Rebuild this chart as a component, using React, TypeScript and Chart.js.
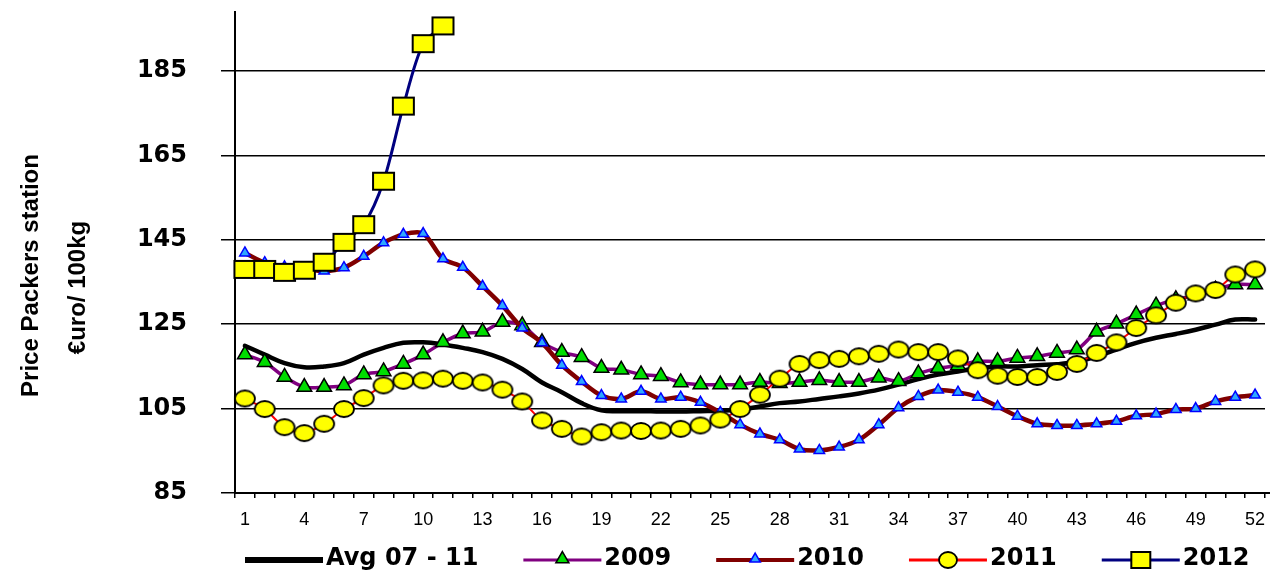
import React, { useEffect, useRef } from 'react';
import { Chart, registerables } from 'chart.js';

Chart.register(...registerables);

const weeks = ['1','2','3','4','5','6','7','8','9','10','11','12','13','14','15','16','17','18','19','20','21','22','23','24','25','26','27','28','29','30','31','32','33','34','35','36','37','38','39','40','41','42','43','44','45','46','47','48','49','50','51','52'];

const yTickValues = [85, 105, 125, 145, 165, 185];

const avg0711 = [119.9, 117.8, 115.8, 114.8, 115.0, 115.8, 117.8, 119.4, 120.6, 120.7, 120.2, 119.4, 118.4, 116.8, 114.4, 111.2, 108.9, 106.3, 104.6, 104.4, 104.4, 104.3, 104.3, 104.4, 104.5, 104.8, 105.5, 106.3, 106.7, 107.3, 107.9, 108.6, 109.5, 110.7, 112.0, 113.1, 113.8, 114.6, 115.0, 115.0, 115.3, 115.5, 116.1, 117.4, 119.0, 120.6, 121.8, 122.7, 123.7, 124.9, 126.1, 126.1];

const y2009 = [117.8, 116.0, 112.5, 110.1, 110.1, 110.5, 113.1, 113.8, 115.6, 117.8, 120.7, 122.8, 123.2, 125.5, 124.7, 120.7, 118.4, 117.2, 114.6, 114.2, 113.1, 112.7, 111.2, 110.7, 110.7, 110.7, 111.3, 111.0, 111.3, 111.7, 111.3, 111.3, 112.3, 111.5, 113.3, 114.6, 115.2, 116.2, 116.2, 117.0, 117.4, 118.2, 119.0, 123.2, 125.1, 127.3, 129.4, 130.9, 131.8, 133.2, 134.4, 134.4];

const y2010 = [141.9, 139.6, 138.6, 138.1, 137.6, 138.4, 141.1, 144.3, 146.3, 146.5, 140.5, 138.5, 134.0, 129.4, 124.1, 120.6, 115.3, 111.4, 108.1, 107.3, 109.1, 107.3, 107.7, 106.5, 104.1, 101.2, 99.0, 97.6, 95.4, 95.1, 95.9, 97.6, 101.2, 105.2, 107.9, 109.4, 108.9, 107.7, 105.5, 103.2, 101.4, 101.0, 101.0, 101.4, 102.0, 103.3, 103.7, 104.8, 105.0, 106.7, 107.7, 108.2];

const y2011 = [107.4, 104.9, 100.6, 99.2, 101.4, 104.9, 107.5, 110.5, 111.6, 111.7, 112.1, 111.6, 111.2, 109.5, 106.7, 102.2, 100.2, 98.4, 99.4, 99.8, 99.7, 99.8, 100.2, 101.0, 102.4, 104.9, 108.3, 112.1, 115.6, 116.5, 116.8, 117.4, 118.0, 119.0, 118.4, 118.4, 116.9, 114.1, 112.8, 112.5, 112.5, 113.7, 115.6, 118.2, 120.7, 124.1, 127.1, 130.1, 132.3, 133.1, 136.8, 138.0];

const y2012 = [138.0, 138.0, 137.3, 137.8, 139.7, 144.4, 148.6, 158.9, 176.7, 191.5, 195.7, null, null, null, null, null, null, null, null, null, null, null, null, null, null, null, null, null, null, null, null, null, null, null, null, null, null, null, null, null, null, null, null, null, null, null, null, null, null, null, null, null];

const seriesNames = ['Avg 07 - 11', '2009', '2010', '2011', '2012'];

function makeEllipse(w: number, h: number) {
  const c = document.createElement('canvas');
  c.width = w + 4; c.height = h + 4;
  const g = c.getContext('2d')!;
  g.beginPath();
  g.ellipse(c.width / 2, c.height / 2, w / 2, h / 2, 0, 0, Math.PI * 2);
  g.fillStyle = '#ffff00';
  g.fill();
  g.lineWidth = 1.8;
  g.strokeStyle = '#000';
  g.stroke();
  return c;
}

function makeRect(w: number, h: number) {
  const c = document.createElement('canvas');
  c.width = w + 4; c.height = h + 4;
  const g = c.getContext('2d')!;
  g.fillStyle = '#ffff00';
  g.fillRect(2, 2, w, h);
  g.lineWidth = 2;
  g.strokeStyle = '#000';
  g.strokeRect(2, 2, w, h);
  return c;
}

function drawTri(ctx: CanvasRenderingContext2D, x: number, y: number, r: number, fill: string, stroke: string, lw: number) {
  ctx.beginPath();
  ctx.moveTo(x, y - r);
  ctx.lineTo(x + r * Math.sin(2 * Math.PI / 3), y - r * Math.cos(2 * Math.PI / 3));
  ctx.lineTo(x + r * Math.sin(4 * Math.PI / 3), y - r * Math.cos(4 * Math.PI / 3));
  ctx.closePath();
  ctx.fillStyle = fill;
  ctx.fill();
  ctx.lineWidth = lw;
  ctx.strokeStyle = stroke;
  ctx.stroke();
}

export default function App() {
  const ref = useRef<HTMLCanvasElement | null>(null);

  useEffect(() => {
    document.body.style.margin = '0';
    const canvas = ref.current!;
    const ellipseImg = makeEllipse(20, 16);
    const rectImg = makeRect(21, 17);
    const ellipseLeg = makeEllipse(18, 16);
    const rectLeg = makeRect(19, 16);

    const bgPlugin = {
      id: 'bg',
      beforeDraw(chart: any) {
        const c = chart.ctx;
        c.save();
        c.fillStyle = '#ffffff';
        c.fillRect(0, 0, chart.width, chart.height);
        c.restore();
      },
    };

    const decoPlugin = {
      id: 'deco',
      afterDraw(chart: any) {
        const c: CanvasRenderingContext2D = chart.ctx;
        const area = chart.chartArea;
        c.save();
        // extend x axis line to the canvas edge
        c.beginPath();
        c.moveTo(area.right, area.bottom);
        c.lineTo(chart.width, area.bottom);
        c.strokeStyle = '#000';
        c.lineWidth = 2;
        c.stroke();
        // y title
        const mid = (area.top + area.bottom) / 2;
        c.fillStyle = '#000';
        c.font = 'bold 24px "Liberation Sans"';
        c.textAlign = 'center';
        c.textBaseline = 'middle';
        c.save();
        c.translate(31, mid + 23);
        c.rotate(-Math.PI / 2);
        c.fillText('Price Packers station', 0, 0);
        c.restore();
        c.save();
        c.translate(78, mid + 35);
        c.rotate(-Math.PI / 2);
        c.fillText('€uro/ 100kg', 0, 0);
        c.restore();

        // legend
        const ly = chart.height - 11;
        let x = area.left + 10;
        const lineLen = 78;
        c.font = 'bold 24px "DejaVu Sans"';
        c.textAlign = 'left';
        const lws = [6, 3, 4, 3, 3];
        chart.data.datasets.forEach((ds: any, i: number) => {
          c.beginPath();
          c.moveTo(x, ly);
          c.lineTo(x + lineLen, ly);
          c.strokeStyle = ds.borderColor;
          c.lineWidth = lws[i];
          c.lineCap = 'butt';
          c.stroke();
          const cx = x + lineLen / 2;
          if (i === 1) drawTri(c, cx, ly - 1, 7.5, '#00dd00', '#000', 1.5);
          if (i === 2) drawTri(c, cx, ly - 1, 6, '#2ea8ff', '#0000ff', 1.5);
          if (i === 3) c.drawImage(ellipseLeg, cx - ellipseLeg.width / 2, ly - ellipseLeg.height / 2);
          if (i === 4) c.drawImage(rectLeg, cx - rectLeg.width / 2, ly - rectLeg.height / 2);
          c.fillStyle = '#000';
          c.fillText(ds.label, x + lineLen + 3, ly - 1);
          x += lineLen + 3 + c.measureText(ds.label).width + 45;
        });
        c.restore();
      },
    };

    const chart = new Chart(canvas, {
      type: 'line',
      data: {
        labels: weeks,
        datasets: [
          {
            label: seriesNames[0],
            data: avg0711,
            borderColor: '#000000',
            borderWidth: 4.5,
            pointRadius: 0,
            tension: 0.4,
            borderCapStyle: 'round',
            order: 5,
          },
          {
            label: seriesNames[1],
            data: y2009,
            borderColor: '#800080',
            borderWidth: 3.5,
            pointStyle: 'triangle',
            pointRadius: 8.5,
            pointBackgroundColor: '#00dd00',
            pointBorderColor: '#000000',
            pointBorderWidth: 1.5,
            tension: 0.3,
            order: 4,
          },
          {
            label: seriesNames[2],
            data: y2010,
            borderColor: '#800000',
            borderWidth: 4.5,
            pointStyle: 'triangle',
            pointRadius: 6,
            pointBackgroundColor: '#2ea8ff',
            pointBorderColor: '#0000ff',
            pointBorderWidth: 1.5,
            tension: 0.3,
            order: 3,
          },
          {
            label: seriesNames[3],
            data: y2011,
            borderColor: '#ff0000',
            borderWidth: 2,
            pointStyle: ellipseImg as any,
            pointRadius: 9,
            tension: 0.3,
            order: 2,
          },
          {
            label: seriesNames[4],
            data: y2012,
            borderColor: '#000080',
            borderWidth: 3,
            pointStyle: rectImg as any,
            pointRadius: 10,
            tension: 0.3,
            spanGaps: false,
            order: 1,
          },
        ],
      },
      options: {
        responsive: false,
        animation: false,
        events: [],
        clip: false as any,
        layout: { autoPadding: false, padding: { top: 12, right: 5, left: 0, bottom: 0 } },
        plugins: {
          legend: { display: false },
          tooltip: { enabled: false },
          title: { display: false },
        },
        scales: {
          x: {
            type: 'category',
            offset: true,
            grid: {
              offset: true,
              drawOnChartArea: false,
              drawTicks: true,
              tickLength: 5,
              color: '#000000',
              lineWidth: 1.5,
            },
            border: { display: true, color: '#000000', width: 2 },
            ticks: {
              autoSkip: false,
              maxRotation: 0,
              minRotation: 0,
              padding: 11,
              color: '#000000',
              font: { family: '"Liberation Sans"', size: 18 },
              callback: function (this: any, _v: any, idx: number) {
                return idx % 3 === 0 ? weeks[idx] : '';
              },
            },
            afterFit(scale: any) {
              scale.height = 78;
              scale.paddingLeft = 0;
              scale.paddingRight = 0;
            },
          },
          y: {
            min: 85,
            max: 199,
            afterBuildTicks(scale: any) {
              scale.ticks = yTickValues.map((v) => ({ value: v }));
            },
            grid: {
              color: '#000000',
              lineWidth: 1.5,
              tickLength: 14,
              drawTicks: true,
            },
            border: { display: true, color: '#000000', width: 2 },
            ticks: {
              padding: 34,
              color: '#000000',
              font: { family: '"DejaVu Sans"', size: 24, weight: 'bold' },
            },
            afterFit(scale: any) {
              scale.width = 235;
              scale.paddingTop = 0;
              scale.paddingBottom = 0;
            },
          },
        },
      },
      plugins: [bgPlugin, decoPlugin],
    } as any);

    return () => chart.destroy();
  }, []);

  return <canvas ref={ref} width={1270} height={571} style={{ display: 'block' }} />;
}
